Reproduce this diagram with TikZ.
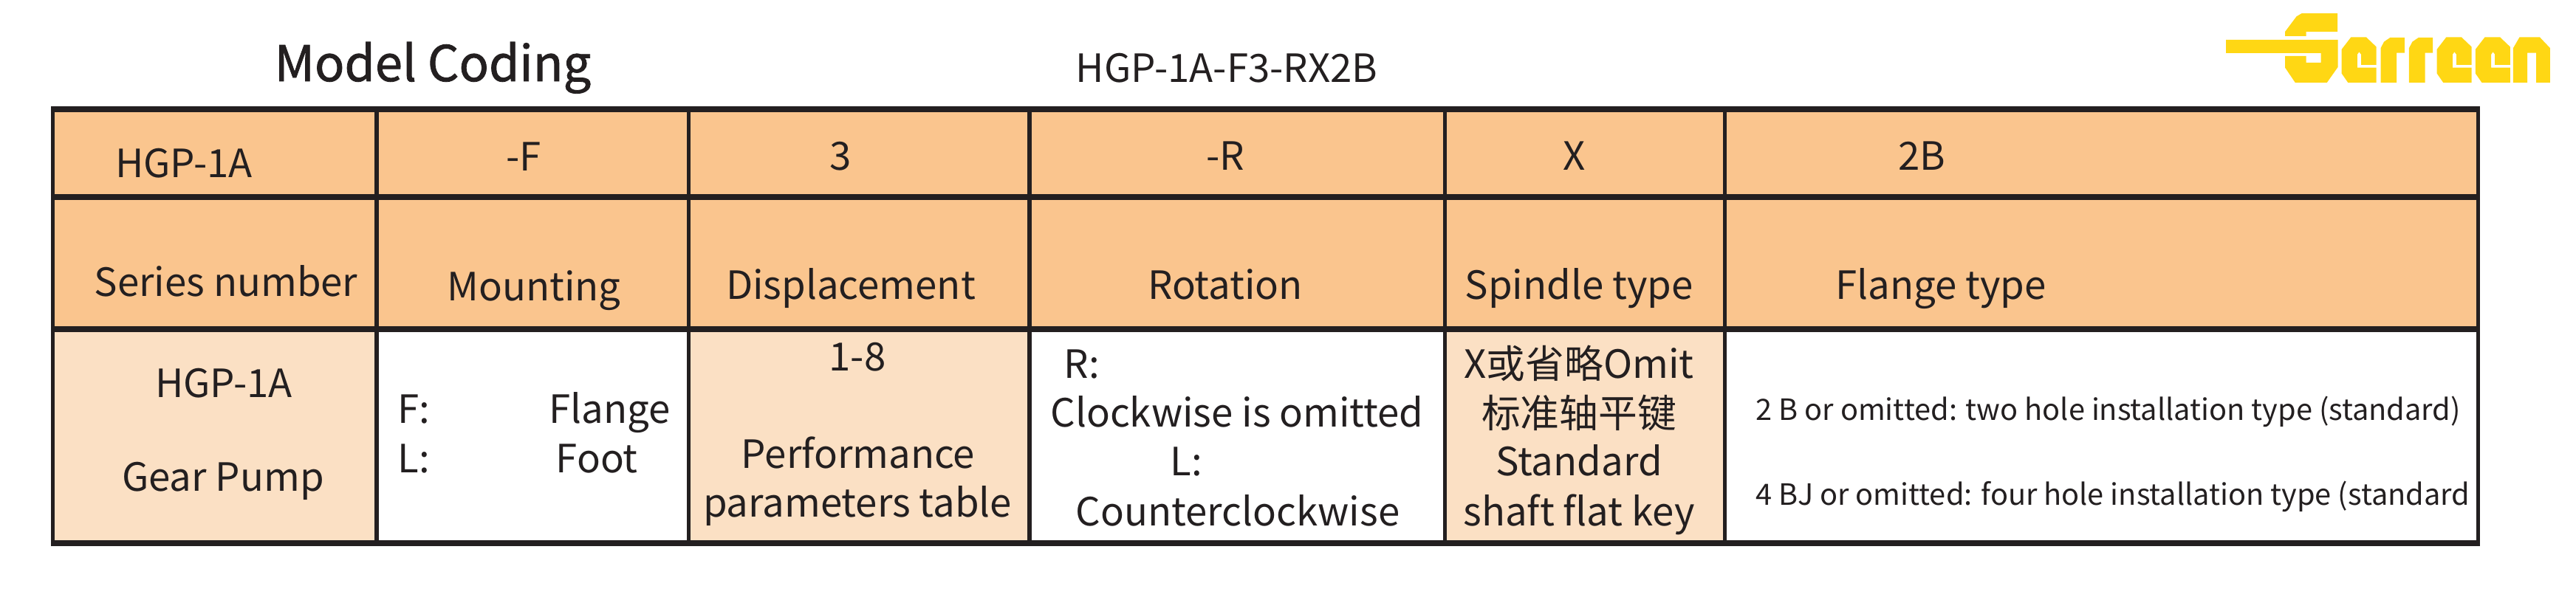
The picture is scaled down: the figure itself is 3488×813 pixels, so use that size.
\documentclass[tikz,border=0pt]{standalone}
\usepackage{fontspec}
\setmainfont{Noto Sans CJK SC}
\newfontfamily\titlefont[FakeBold=1.2]{Noto Sans CJK SC}
\definecolor{headorange}{HTML}{FAC58E}
\definecolor{paleorange}{HTML}{FBE0C4}
\definecolor{rulegray}{HTML}{231F20}
\definecolor{logoyellow}{HTML}{FFD714}

\begin{document}
\begin{tikzpicture}[
    x=0.01cm,
    y=-0.01cm,
    label/.style={anchor=base, inner sep=0pt, text=rulegray, font=\fontsize{15}{18}\selectfont},
    leftlabel/.style={label, anchor=base west},
    smalllabel/.style={leftlabel, font=\fontsize{11.3}{14}\selectfont},
    logopart/.style={fill=logoyellow, draw=none}
]
   \useasboundingbox (0,0) rectangle (3488,813);

   % Cell fills
   \fill[headorange] (74,150) rectangle (3353,446);
   \foreach \xa/\xb in {74/507, 935/1391, 1959/2333}
      \fill[paleorange] (\xa,446) rectangle (\xb,733);

   % Rules
   \foreach \ypos in {148.2, 267, 446, 736.2}
      \draw[rulegray, line width=0.074cm] (69,\ypos) -- (3358,\ypos);
   \foreach \xpos in {71.5, 510, 932.5, 1394, 1956.5, 2335.5, 3355.5}
      \draw[rulegray, line width=0.058cm] (\xpos,144.6) -- (\xpos,739.8);

   % Titles
   \node[label, font=\titlefont\fontsize{19}{23}\selectfont] (title) at (586,110) {Model Coding};
   \node[label] (example) at (1661,111.5) {HGP-1A-F3-RX2B};

   % Code row
   \node[label] (codeseries) at (249,241) {HGP-1A};
   \node[label] (codemount) at (709,231.7) {-F};
   \node[label] (codedisp) at (1138,230.7) {3};
   \node[label] (coderot) at (1659,230.7) {-R};
   \node[label] (codespindle) at (2132,230.7) {X};
   \node[label] (codeflange) at (2602,230.7) {2B};

   % Name row
   \node[label] (nameseries) at (306,401.8) {Series number};
   \node[label] (namemount) at (723,408) {Mounting};
   \node[label] (namedisp) at (1152,406) {Displacement};
   \node[label] (namerot) at (1659,406) {Rotation};
   \node[label] (namespindle) at (2138,406) {Spindle type};
   \node[label] (nameflange) at (2628,406) {Flange type};

   % Value row
   \node[label] (series1) at (303,539) {HGP-1A};
   \node[label] (series2) at (302,666) {Gear Pump};
   \node[leftlabel] (mountf) at (538,574) {F:};
   \node[leftlabel] (mountfname) at (743,574) {Flange};
   \node[leftlabel] (mountl) at (538,640) {L:};
   \node[leftlabel] (mountlname) at (752,640) {Foot};
   \node[label] (disp1) at (1161,503) {1-8};
   \node[label] (disp2) at (1162,635) {Performance};
   \node[label] (disp3) at (1161,701) {parameters table};
   \node[leftlabel] (rotr) at (1440,513) {R:};
   \node[label] (rotrname) at (1675,579) {Clockwise is omitted};
   \node[leftlabel] (rotl) at (1584,645) {L:};
   \node[label] (rotlname) at (1676,712) {Counterclockwise};
   \node[label] (spindle1) at (2138,513) {X或省略Omit};
   \node[label] (spindle2) at (2138,580) {标准轴平键};
   \node[label] (spindle3) at (2138,645) {Standard};
   \node[label] (spindle4) at (2138,712) {shaft flat key};
   \node[smalllabel] (flange2) at (2377,570) {2 B or omitted: two hole installation type (standard)};
   \node[smalllabel] (flange4) at (2377,685) {4 BJ or omitted: four hole installation type (standard};

   % Logo
   \fill[logopart] (3094,49) -- (3094,43) -- (3109.5,22.3) -- (3116.4,18.2) -- (3165,18.2)
      -- (3165,43) -- (3122.6,43) -- (3122.6,49) -- cycle;
   \fill[logopart] (3014,54) -- (3165.5,54) -- (3165.5,91) -- (3150.7,112) -- (3107.8,112)
      -- (3094,91.6) -- (3094,76) -- (3122.6,76) -- (3122.6,85) -- (3142.5,85) -- (3142.5,72)
      -- (3014,72) -- cycle;
   \foreach \xpos in {3170.6, 3299.6, 3351.8}
      \fill[logopart, shift={(\xpos,0)}] (0,66.9) -- (12.7,50.4) -- (33.3,50.4) -- (47,63.5) -- (47,87.8)
         -- (26.4,87.8) -- (26.4,73.8) -- (23.7,70.3) -- (21.3,73.8) -- (21.3,91.6) -- (47,91.6)
         -- (47,111.9) -- (8.6,111.9) -- (0,99.5) -- cycle;
   \foreach \xpos in {3223.5, 3261.9}
      \fill[logopart, shift={(\xpos,0)}] (0,65.2) -- (4.5,56.6) -- (13,50.8) -- (32.3,50.8) -- (32.3,71.7)
         -- (21.6,71.7) -- (21.6,111.9) -- (0,111.9) -- cycle;
   \fill[logopart, shift={(3402.9,0)}] (0,65.2) -- (8.6,50.4) -- (36,50.4) -- (50,65.2) -- (50,111.9)
      -- (31.2,111.9) -- (31.2,71.7) -- (19.2,71.7) -- (19.2,111.9) -- (0,111.9) -- cycle;
\end{tikzpicture}
\end{document}
